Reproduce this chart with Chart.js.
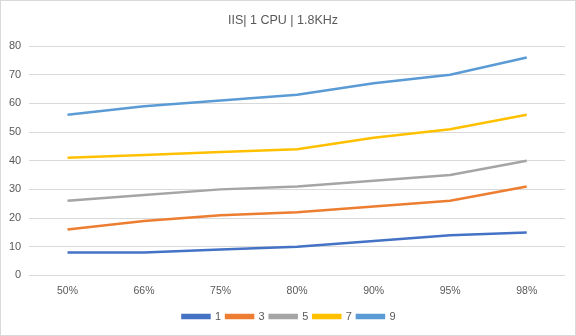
<!DOCTYPE html>
<html>
<head>
<meta charset="utf-8">
<script src="https://cdn.jsdelivr.net/npm/chart.js@4"></script>
<style>
  html, body { margin: 0; padding: 0; background: #fff; }
  #wrap { width: 574px; height: 334px; border: 1px solid #d9d9d9; position: relative; }
</style>
</head>
<body>
<div id="wrap"><canvas id="c"></canvas></div>
<script>
const categories = ['50%', '66%', '75%', '80%', '90%', '95%', '98%'];
const seriesNames = ['1', '3', '5', '7', '9'];
const s1 = [8, 8, 9, 10, 12, 14, 15];
const s3 = [16, 19, 21, 22, 24, 26, 31];
const s5 = [26, 28, 30, 31, 33, 35, 40];
const s7 = [41, 42, 43, 44, 48, 51, 56];
const s9 = [56, 59, 61, 63, 67, 70, 76];
const colors = ['#4472C4', '#ED7D31', '#A5A5A5', '#FFC000', '#5B9BD5'];
const allSeries = [s1, s3, s5, s7, s9];

const FONT = 'Liberation Sans, Arial, sans-serif';
Chart.defaults.font.family = FONT;
Chart.defaults.color = '#595959';

const shiftLegend = {
  id: 'shiftLegend',
  afterLayout(chart) {
    if (chart.legend) {
      chart.legend.left += 6;
      chart.legend.right += 6;
    }
  }
};

new Chart(document.getElementById('c'), {
  type: 'line',
  data: {
    labels: categories,
    datasets: allSeries.map((d, i) => ({
      label: seriesNames[i],
      data: d,
      borderColor: colors[i],
      backgroundColor: colors[i],
      borderWidth: 2.5,
      pointRadius: 0,
      tension: 0,
      fill: false
    }))
  },
  plugins: [shiftLegend],
  options: {
    responsive: true,
    maintainAspectRatio: false,
    animation: false,
    layout: { padding: { left: 0, right: 10, top: 8, bottom: 3 } },
    plugins: {
      title: {
        display: true,
        text: 'IIS| 1 CPU | 1.8KHz',
        color: '#595959',
        font: { size: 12.5, weight: 'normal' },
        padding: { top: 4, bottom: 18 }
      },
      legend: {
        position: 'bottom',
        labels: {
          boxWidth: 27,
          boxHeight: 3,
          padding: 5,
          color: '#595959',
          font: { size: 11 }
        }
      },
      tooltip: { enabled: false }
    },
    scales: {
      x: {
        offset: true,
        grid: { display: false, drawTicks: false },
        border: { display: false },
        ticks: { color: '#595959', font: { size: 10.5 }, padding: 9, maxRotation: 0 }
      },
      y: {
        min: 0,
        max: 80,
        grid: { color: '#d9d9d9', drawTicks: false, lineWidth: 1 },
        border: { display: false },
        ticks: { stepSize: 10, color: '#595959', font: { size: 11 }, padding: 8 }
      }
    }
  }
});
</script>
</body>
</html>
